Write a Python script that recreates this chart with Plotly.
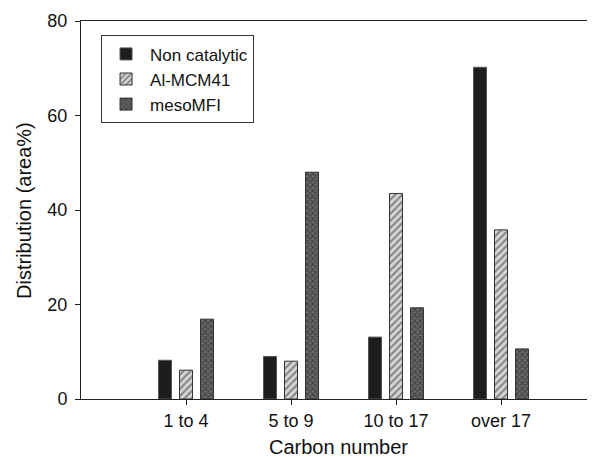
import plotly.graph_objects as go

categories = ["1 to 4", "5 to 9", "10 to 17", "over 17"]
non_catalytic = [8.2, 9.0, 13.1, 70.2]
al_mcm41 = [6.1, 8.0, 43.5, 35.8]
meso_mfi = [16.9, 48.0, 19.3, 10.6]
y_ticks = [0, 20, 40, 60, 80]

FONT = "Liberation Sans, Arial, Helvetica, sans-serif"
LINE = "#222222"

fig = go.Figure()
fig.add_trace(go.Bar(
    x=categories, y=non_catalytic, name="Non catalytic",
    marker=dict(color="#1e1c1c", line=dict(color="#555555", width=1)),
))
fig.add_trace(go.Bar(
    x=categories, y=al_mcm41, name="Al-MCM41",
    marker=dict(color="#d4d4d4", line=dict(color="#333333", width=1),
                pattern=dict(shape="/", fgcolor="#2e2e2e", bgcolor="#d4d4d4",
                             size=5, solidity=0.4)),
))
fig.add_trace(go.Bar(
    x=categories, y=meso_mfi, name="mesoMFI",
    marker=dict(color="#555555", line=dict(color="#333333", width=1),
                pattern=dict(shape="x", fgcolor="#1c1c1c", bgcolor="#6a6a6a",
                             size=4, solidity=0.5)),
))

# The page body has an 8px default margin, so the figure is sized to fit inside it.
fig.update_layout(
    width=587, height=449,
    margin=dict(l=73, r=0, t=13, b=58, autoexpand=False),
    paper_bgcolor="white", plot_bgcolor="white",
    barmode="group", bargap=0.4, bargroupgap=0.38,
    font=dict(family=FONT, size=18, color="#111111"),
    showlegend=True,
    legend=dict(
        x=0.039, y=0.962, xanchor="left", yanchor="top",
        bordercolor="#333333", borderwidth=1, bgcolor="white",
        font=dict(family=FONT, size=17, color="#111111"),
        tracegroupgap=0, itemwidth=38,
    ),
    xaxis=dict(
        type="category", range=[-1, 3.895], automargin=False,
        showline=True, linecolor=LINE, linewidth=1, mirror=True,
        ticks="outside", ticklen=5, tickcolor=LINE,
        showgrid=False, zeroline=False,
        tickfont=dict(family=FONT, size=18),
    ),
    yaxis=dict(
        range=[0, 80], tickvals=y_ticks, automargin=False,
        showline=True, linecolor=LINE, linewidth=1,
        ticks="outside", ticklen=5, tickcolor=LINE, ticklabelstandoff=4,
        showgrid=False, zeroline=False,
        tickfont=dict(family=FONT, size=18),
    ),
    annotations=[
        dict(text="Carbon number", xref="paper", yref="paper",
             x=0.5, y=-0.127, xanchor="center", yanchor="middle",
             showarrow=False, font=dict(family=FONT, size=20, color="#111111")),
        dict(text="Distribution (area%)", xref="paper", yref="paper",
             x=-0.111, y=0.5, xanchor="center", yanchor="middle", textangle=-90,
             showarrow=False, font=dict(family=FONT, size=20, color="#111111")),
    ],
)

fig.write_html("out.html")
